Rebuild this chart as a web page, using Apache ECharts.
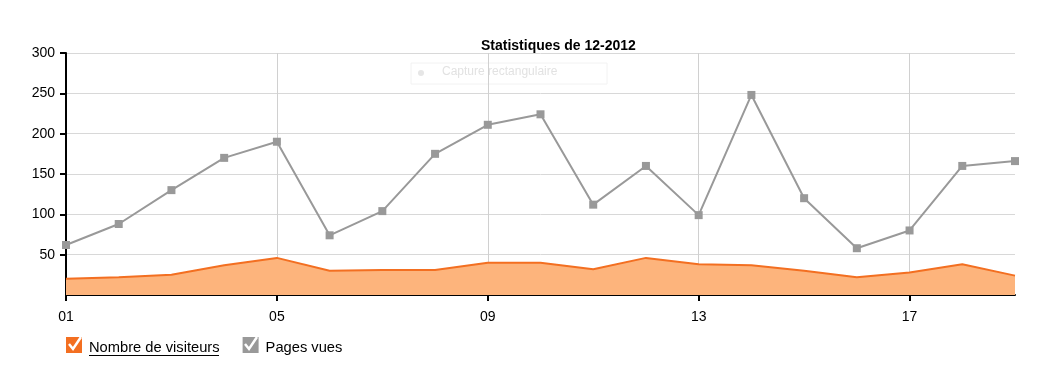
<!DOCTYPE html>
<html><head><meta charset="utf-8">
<script src="https://cdn.jsdelivr.net/npm/echarts@6/dist/echarts.min.js"></script>
<style>html,body{margin:0;padding:0;background:#fff}#c{width:1064px;height:365px}</style>
</head><body><div id="c"></div>
<script>
const days = ['01','02','03','04','05','06','07','08','09','10','11','12','13','14','15','16','17','18','19'];
const visiteurs = [20,22,25,37,46,30,31,31,40,40,32,46,38,37,30,22,28,38,24];
const pagesVues = [62,88,130,170,190,74,104,175,211,224,112,160,99,248,120,58,80,160,166];
const yTicks = [0,50,100,150,200,250,300];

const chart = echarts.init(document.getElementById('c'), null, {renderer:'canvas'});
const font = 'Arial, "Liberation Sans", sans-serif';
const boxIcon = 'path://M0,0L16,0L16,16L0,16Z M0,22L0.01,22L0.01,21.99Z';
chart.setOption({
  animation:false,
  textStyle:{fontFamily:font},
  title:{text:'Statistiques de 12-2012',left:476,top:34,textStyle:{fontSize:14,fontWeight:'bold',color:'#000',fontFamily:font}},
  grid:{left:66,right:49,top:53,bottom:70},
  legend:{
    left:66,top:337,padding:0,itemWidth:16,itemHeight:22,itemGap:23,
    icon:boxIcon,
    textStyle:{fontSize:14.7,color:'#000',fontFamily:font,padding:[0,0,0,2]},
    data:[{name:'Nombre de visiteurs',itemStyle:{color:'#f36f21'}},{name:'Pages vues',itemStyle:{color:'#999999'}}]
  },
  xAxis:{
    type:'category',data:days,boundaryGap:false,
    axisLine:{lineStyle:{color:'#000',width:2}},
    axisTick:{interval:3,length:6,lineStyle:{color:'#000',width:2}},
    axisLabel:{interval:3,fontSize:14,color:'#000',margin:15,fontFamily:font},
    splitLine:{show:true,interval:3,lineStyle:{color:'#d0d0d0',width:1}}
  },
  yAxis:{
    type:'value',min:yTicks[0],max:yTicks[yTicks.length-1],interval:50,
    axisLine:{show:true,lineStyle:{color:'#000',width:2}},
    axisTick:{show:true,length:6,lineStyle:{color:'#000',width:2}},
    axisLabel:{showMinLabel:false,fontSize:14,color:'#000',margin:11,fontFamily:font},
    splitLine:{lineStyle:{color:'#d8d8d8',width:1}}
  },
  series:[
    {name:'Nombre de visiteurs',type:'line',data:visiteurs,symbol:'none',
     lineStyle:{color:'#f36f21',width:2},itemStyle:{color:'#f36f21'},
     areaStyle:{color:'#fdb47c',opacity:1},z:2},
    {name:'Pages vues',type:'line',data:pagesVues,symbol:'rect',symbolSize:8,
     lineStyle:{color:'#999999',width:2},itemStyle:{color:'#999999'},z:3}
  ],
  graphic:[
    {type:'rect',shape:{x:411,y:63,width:196,height:21},style:{fill:'none',stroke:'#f2f2f2',lineWidth:1},z:0},
    {type:'circle',shape:{cx:421,cy:73,r:3},style:{fill:'#e6e6e6'},z:0},
    {type:'text',left:442,top:66,style:{text:'Capture rectangulaire',fontSize:12,fill:'#e2e2e2',fontFamily:font},z:0},
    {type:'polyline',shape:{points:[[69,344],[73,349],[81,337]]},style:{stroke:'#fff',lineWidth:2.5,fill:'none'},z:100},
    {type:'polyline',shape:{points:[[245,344],[249,349],[257,337]]},style:{stroke:'#fff',lineWidth:2.5,fill:'none'},z:100},
    {type:'line',shape:{x1:89,y1:355.5,x2:219,y2:355.5},style:{stroke:'#000',lineWidth:1},z:100}
  ]
});
</script></body></html>
